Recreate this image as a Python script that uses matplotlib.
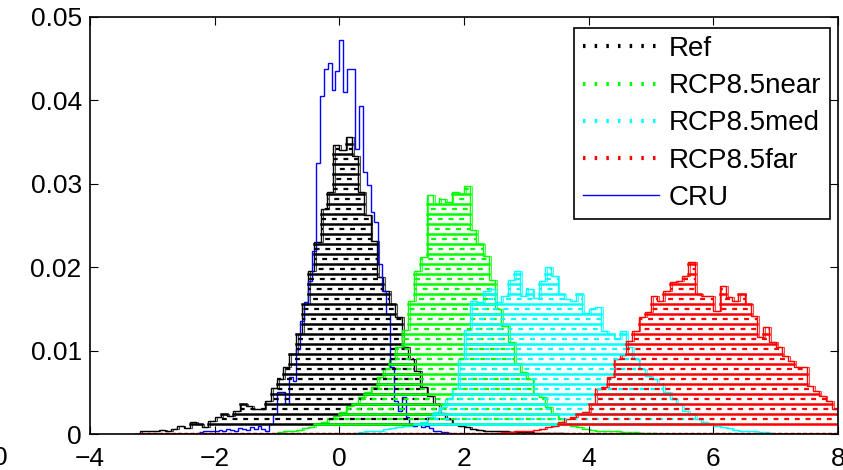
import matplotlib
matplotlib.use('Agg')
import matplotlib.pyplot as plt
from matplotlib.lines import Line2D
import numpy as np

plt.rcParams['font.family'] = ['Liberation Sans', 'DejaVu Sans']

# histogram densities, bin width 0.1 (CRU: 0.0625)
ref_start = -3.2
ref = [0.0003, 0.0004, 0.0003, 0.0005, 0.0004, 0.0006, 0.0009, 0.0007, 0.0014, 0.0012,
       0.0008, 0.0016, 0.0020, 0.0024, 0.0022, 0.0028, 0.0036, 0.0034, 0.0030, 0.0030,
       0.0040, 0.0055, 0.0066, 0.0080, 0.0096, 0.0120, 0.0156, 0.0195, 0.0230, 0.0270,
       0.0290, 0.0346, 0.0340, 0.0356, 0.0333, 0.0290, 0.0262, 0.0232, 0.0188, 0.0172,
       0.0156, 0.0140, 0.0104, 0.0090, 0.0075, 0.0056, 0.0045, 0.0036, 0.0025, 0.0018,
       0.0012, 0.0010, 0.0008, 0.0006, 0.0005, 0.0004, 0.0003, 0.0003, 0.0003, 0.0002,
       0.0002, 0.0002, 0.0002, 0.0001, 0.0001, 0.0001, 0.0001, 0.0001]

near_start = -1.0
near = [0.0002, 0.0003, 0.0004, 0.0005, 0.0007, 0.0008, 0.0012, 0.0014, 0.0018, 0.0022,
        0.0026, 0.0034, 0.0036, 0.0044, 0.0050, 0.0056, 0.0068, 0.0078, 0.0090, 0.0104,
        0.0125, 0.0160, 0.0195, 0.0212, 0.0286, 0.0276, 0.0282, 0.0278, 0.0290, 0.0288,
        0.0297, 0.0245, 0.0228, 0.0214, 0.0185, 0.0150, 0.0130, 0.0110, 0.0085, 0.0074,
        0.0066, 0.0048, 0.0044, 0.0032, 0.0024, 0.0018, 0.0012, 0.0010, 0.0008, 0.0006,
        0.0005, 0.0004, 0.0004, 0.0003, 0.0003, 0.0002, 0.0002, 0.0002, 0.0001, 0.0001,
        0.0001]

med_start = 0.3
med = [0.0002, 0.0003, 0.0004, 0.0004, 0.0006, 0.0007, 0.0008, 0.0009, 0.0010, 0.0012,
       0.0014, 0.0020, 0.0026, 0.0032, 0.0042, 0.0055, 0.0090, 0.0125, 0.0160, 0.0158,
       0.0172, 0.0174, 0.0158, 0.0166, 0.0185, 0.0196, 0.0166, 0.0174, 0.0163, 0.0184,
       0.0200, 0.0190, 0.0168, 0.0162, 0.0160, 0.0168, 0.0145, 0.0150, 0.0152, 0.0124,
       0.0120, 0.0114, 0.0124, 0.0104, 0.0090, 0.0078, 0.0070, 0.0066, 0.0060, 0.0050,
       0.0042, 0.0036, 0.0028, 0.0024, 0.0018, 0.0014, 0.0012, 0.0010, 0.0008, 0.0007,
       0.0005, 0.0004, 0.0003, 0.0003, 0.0002, 0.0002]

far_start = 2.5
far = [0.0001, 0.0002, 0.0002, 0.0003, 0.0003, 0.0004, 0.0005, 0.0006, 0.0008, 0.0010,
       0.0014, 0.0018, 0.0020, 0.0024, 0.0026, 0.0036, 0.0054, 0.0056, 0.0068, 0.0090,
       0.0095, 0.0112, 0.0124, 0.0140, 0.0146, 0.0165, 0.0160, 0.0172, 0.0182, 0.0184,
       0.0190, 0.0206, 0.0168, 0.0166, 0.0165, 0.0148, 0.0178, 0.0164, 0.0160, 0.0168,
       0.0156, 0.0142, 0.0116, 0.0128, 0.0110, 0.0104, 0.0094, 0.0088, 0.0080, 0.0080,
       0.0058, 0.0052, 0.0046, 0.0040, 0.0030, 0.0026, 0.0020]

cru_start = -2.25
cru = [0.0002, 0.0003, 0.0003, 0.0004, 0.0003, 0.0005, 0.0004, 0.0006, 0.0005, 0.0004,
       0.0007, 0.0006, 0.0005, 0.0008, 0.0006, 0.0009, 0.0006, 0.0004, 0.0012, 0.0024,
       0.0050, 0.0050, 0.0036, 0.0068, 0.0064, 0.0102, 0.0136, 0.0158, 0.0184, 0.0220,
       0.0325, 0.0405, 0.0438, 0.0445, 0.0412, 0.0435, 0.0472, 0.0410, 0.0438, 0.0438,
       0.0342, 0.0393, 0.0314, 0.0298, 0.0266, 0.0254, 0.0204, 0.0172, 0.0144, 0.0080,
       0.0040, 0.0028, 0.0044, 0.0020, 0.0012, 0.0010, 0.0012, 0.0008, 0.0010, 0.0007,
       0.0004, 0.0003, 0.0002, 0.0002, 0.0001]

names = ['Ref', 'RCP8.5near', 'RCP8.5med', 'RCP8.5far', 'CRU']
yticks = [0, 0.01, 0.02, 0.03, 0.04, 0.05]
ytick_labels = ['0', '0.01', '0.02', '0.03', '0.04', '0.05']
xticks = [-4, -2, 0, 2, 4, 6, 8]

# common bin grid for the model histograms
x0, dx, nb = -3.3, 0.1, 116
edges = x0 + dx * np.arange(nb + 1)


def pad(start, vals):
    full = np.zeros(nb)
    i = int(round((start - x0) / dx))
    full[i:i + len(vals)] = vals
    return full


def runs(mask):
    # contiguous stretches of True -> (first, last) bin index
    out = []
    i = 0
    while i < len(mask):
        if mask[i]:
            j = i
            while j + 1 < len(mask) and mask[j + 1]:
                j += 1
            out.append((i, j))
            i = j + 1
        else:
            i += 1
    return out


def banded(ax, vals, color):
    h = pad(*vals)
    ax.stairs(h, edges, color=color, lw=1.0)
    ax.stairs(h, edges + 0.03, color=color, lw=0.8, alpha=0.7)
    step = 0.0012
    lev = step
    k = 0
    while lev < h.max():
        for a, b in runs(h >= lev):
            if k % 2 == 0:
                ax.plot([edges[a], edges[b + 1]], [lev, lev], color=color, lw=1.8)
            else:
                ax.plot([edges[a], edges[b + 1]], [lev, lev], color=color, lw=1.6,
                        ls=((k * 1.7) % 5, (2.2, 2.6)))
        lev += step / 2
        k += 1
    return h


fig = plt.figure(figsize=(8.43, 4.70), dpi=100)
ax = fig.add_axes([90 / 843, 1 - 434 / 470, 748 / 843, 417 / 470])

banded(ax, (ref_start, ref), 'k')
banded(ax, (near_start, near), (0, 1, 0))
banded(ax, (med_start, med), (0, 1, 1))
banded(ax, (far_start, far), (1, 0, 0))
ax.plot([edges[1], edges[-1]], [0, 0], color=(1, 0, 0), lw=2.5, ls=(0, (1.2, 0.6)))

cru_edges = cru_start + 0.0625 * np.arange(len(cru) + 1)
ax.stairs(cru, cru_edges, color=(0, 0, 1), lw=1.0, baseline=None)

ax.set_xlim(-4, 8)
ax.set_ylim(0, 0.05)
ax.set_xticks(xticks)
ax.set_xticklabels([str(v).replace('-', '\u2212') for v in xticks])
ax.set_yticks(yticks)
ax.set_yticklabels(ytick_labels)
ax.tick_params(direction='in', top=True, right=True, length=6, width=0.8,
               labelsize=19)
ax.tick_params(axis='y', pad=6)
ax.tick_params(axis='x', pad=9)
for s in ax.spines.values():
    s.set_linewidth(1.2)

dots = (0, (0.6, 2.2))
handles = [Line2D([], [], color='k', lw=3, ls=dots),
           Line2D([], [], color=(0, 1, 0), lw=3, ls=dots),
           Line2D([], [], color=(0, 1, 1), lw=3, ls=dots),
           Line2D([], [], color=(1, 0, 0), lw=3, ls=dots),
           Line2D([], [], color=(0, 0, 1), lw=1.0)]
leg = ax.legend(handles, names, loc='upper right', bbox_to_anchor=(0.989, 0.974),
                fontsize=20, frameon=True, fancybox=False, framealpha=1,
                edgecolor='k', handlelength=2.75, handletextpad=0.35,
                labelspacing=0.4, borderpad=0.3, borderaxespad=0)
leg.get_frame().set_linewidth(1.2)

fig.text(0.0, 1 - 458 / 470, '0', fontsize=19, ha='center', va='center')

fig.savefig('out.png', dpi=100)
